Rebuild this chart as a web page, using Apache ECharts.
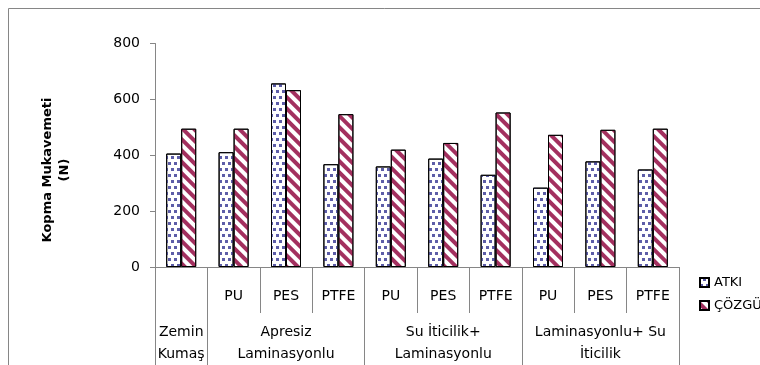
<!DOCTYPE html>
<html>
<head>
<meta charset="utf-8">
<script src="https://cdn.jsdelivr.net/npm/echarts@6/dist/echarts.min.js"></script>
<style>
html,body{margin:0;padding:0;background:#fff;}
#chart{width:760px;height:365px;}
</style>
</head>
<body>
<div id="chart"></div>
<script>
// ---- data ----
var subCategories = ['', 'PU', 'PES', 'PTFE', 'PU', 'PES', 'PTFE', 'PU', 'PES', 'PTFE'];
var groupNames = ['Zemin\nKumaş', 'Apresiz\nLaminasyonlu', 'Su İticilik+\nLaminasyonlu', 'Laminasyonlu+ Su\nİticilik'];
var groupSpans = [1, 3, 3, 3];
var seriesNames = ['ATKI', 'ÇÖZGÜ'];
var atkiValues = [406, 411, 657, 368, 360, 388, 330, 284, 378, 349];
var cozguValues = [495, 495, 633, 547, 420, 444, 553, 473, 491, 495];
var yTicks = [0, 200, 400, 600, 800];
var yTitle = 'Kopma Mukavemeti\n(N)';

// build group label row and boundaries from group data
var groupLabels = [];
var boundaries = [];
var pos = 0;
groupSpans.forEach(function (span, gi) {
  boundaries.push(pos);
  for (var k = 0; k < span; k++) {
    var centerIdx = pos + Math.floor(span / 2);
    groupLabels[pos + k] = (pos + k === centerIdx) ? groupNames[gi] : '';
  }
  pos += span;
});

var FONT = '"DejaVu Sans", sans-serif';
var gray = '#868686';

var chart = echarts.init(document.getElementById('chart'), null, {renderer: 'canvas'});
chart.setOption({
  animation: false,
  backgroundColor: '#fff',
  textStyle: {fontFamily: FONT},
  grid: {left: 155, right: 81, top: 43.5, bottom: 93, containLabel: false},
  legend: {
    orient: 'vertical',
    left: 694,
    top: 271,
    itemWidth: 9,
    itemHeight: 9,
    itemGap: 10,
    icon: 'rect',
    textStyle: {fontSize: 13, color: '#000', fontFamily: FONT},
    data: seriesNames
  },
  xAxis: [
    {
      type: 'category',
      data: subCategories,
      position: 'bottom',
      axisLine: {show: true, lineStyle: {color: gray, width: 1}},
      axisTick: {show: true, interval: 0, length: 46, lineStyle: {color: gray}},
      axisLabel: {interval: 0, fontSize: 14, color: '#000', margin: 22, fontFamily: FONT}
    },
    {
      type: 'category',
      data: groupLabels,
      position: 'bottom',
      axisLine: {show: false},
      axisTick: {
        show: true,
        length: 100,
        lineStyle: {color: gray},
        interval: function (index) { return boundaries.indexOf(index) >= 0; }
      },
      axisLabel: {interval: 0, fontSize: 14, color: '#000', margin: 54, lineHeight: 22, fontFamily: FONT}
    }
  ],
  yAxis: {
    type: 'value',
    min: 0,
    max: 800,
    interval: 200,
    axisLine: {show: true, lineStyle: {color: gray}},
    axisTick: {show: true, length: 5, lineStyle: {color: gray}},
    splitLine: {show: false},
    axisLabel: {fontSize: 14, color: '#000', margin: 15, fontFamily: FONT,
      formatter: function (v) { return yTicks.indexOf(v) >= 0 ? String(v) : ''; }}
  },
  series: [
    {
      name: seriesNames[0],
      type: 'bar',
      xAxisIndex: 0,
      data: atkiValues,
      barWidth: 15,
      barGap: '0%',
      itemStyle: {
        color: '#ffffff',
        borderColor: '#000',
        borderWidth: 1,
        decal: {
          symbol: 'rect',
          symbolSize: 1,
          color: '#5d5da8',
          dashArrayX: [[2.5, 2.5], [0, 2.5, 2.5, 0]],
          dashArrayY: [2.5, 2.5],
          rotation: 0
        }
      }
    },
    {
      name: seriesNames[1],
      type: 'bar',
      xAxisIndex: 0,
      data: cozguValues,
      barWidth: 15,
      barGap: '0%',
      itemStyle: {
        color: '#ffffff',
        borderColor: '#000',
        borderWidth: 1,
        decal: {
          symbol: 'rect',
          symbolSize: 1,
          color: '#a3305f',
          dashArrayX: [1, 0],
          dashArrayY: [3.2, 3.8],
          rotation: Math.PI / 4
        }
      }
    }
  ],
  graphic: [
    {
      type: 'rect',
      silent: true,
      shape: {x: 8.5, y: 8.5, width: 800, height: 400},
      style: {fill: 'none', stroke: gray, lineWidth: 1}
    },
    {
      type: 'text',
      silent: true,
      x: 56,
      y: 170,
      rotation: Math.PI / 2,
      style: {
        text: yTitle,
        fontFamily: FONT,
        fontSize: 13,
        fontWeight: 'bold',
        fill: '#000',
        align: 'center',
        verticalAlign: 'middle',
        lineHeight: 17
      }
    }
  ]
});
</script>
</body>
</html>
